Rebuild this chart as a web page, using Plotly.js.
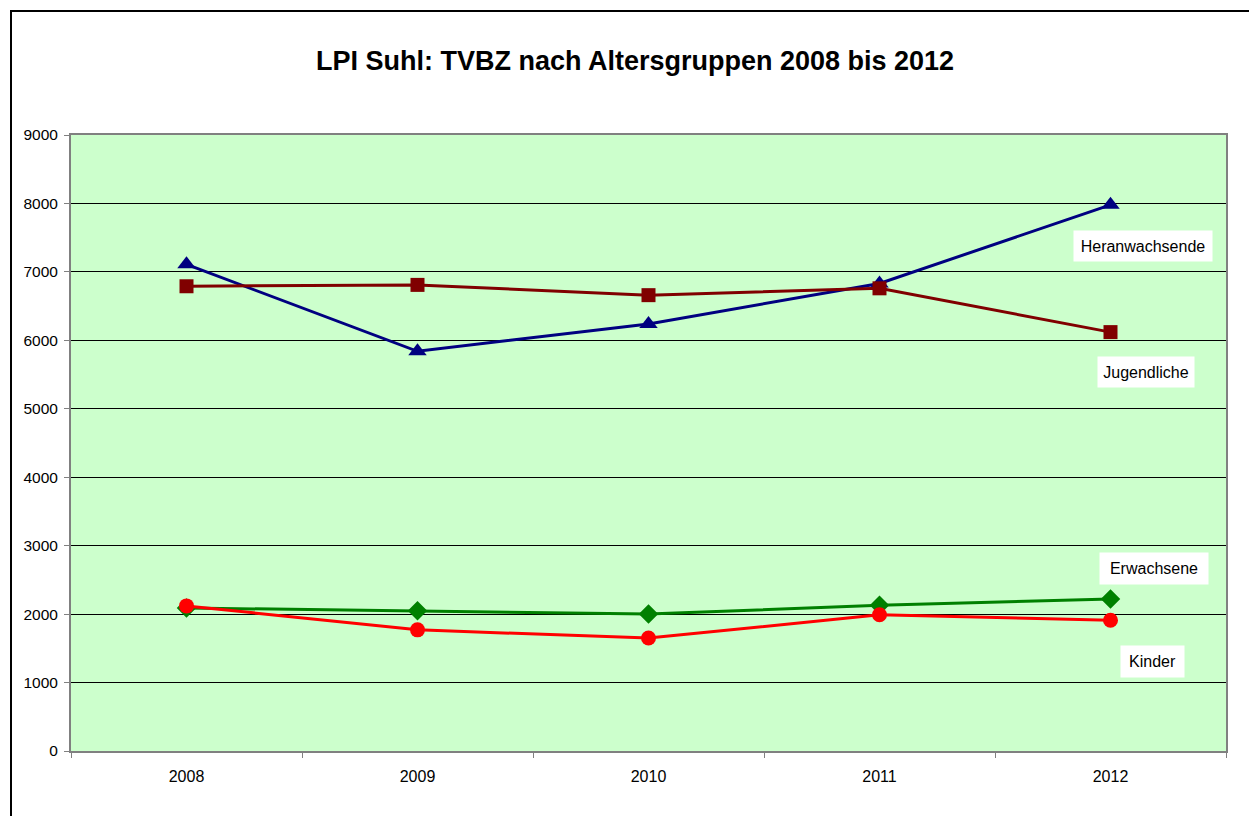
<!DOCTYPE html>
<html>
<head>
<meta charset="utf-8">
<script src="https://cdn.plot.ly/plotly-3.0.1.min.js"></script>
<style>
  html, body { margin: 0; padding: 0; background: #ffffff; overflow: hidden; }
  #chart { width: 1249px; height: 816px; position: relative; }
  #frame { position: absolute; left: 10px; top: 10px; width: 1300px; height: 900px;
           border-left: 2px solid #000; border-top: 2px solid #000; pointer-events: none; z-index: 10; }
</style>
</head>
<body>
<div id="chart"></div>
<div id="frame"></div>
<script>
const years = ['2008', '2009', '2010', '2011', '2012'];
const heranwachsende = [7110, 5840, 6240, 6830, 7980];
const jugendliche = [6790, 6810, 6660, 6760, 6120];
const erwachsene = [2090, 2050, 2000, 2130, 2220];
const kinder = [2120, 1770, 1650, 1990, 1910];
const yTicks = [0, 1000, 2000, 3000, 4000, 5000, 6000, 7000, 8000, 9000];

const font = 'Liberation Sans, Arial, sans-serif';

const traces = [
  { name: 'Heranwachsende', x: years, y: heranwachsende, mode: 'lines+markers',
    line: { color: '#000080', width: 3 }, marker: { symbol: 'triangle-up', size: 16, color: '#000080' } },
  { name: 'Jugendliche', x: years, y: jugendliche, mode: 'lines+markers',
    line: { color: '#800000', width: 3 }, marker: { symbol: 'square', size: 14, color: '#800000' } },
  { name: 'Erwachsene', x: years, y: erwachsene, mode: 'lines+markers',
    line: { color: '#008000', width: 3 }, marker: { symbol: 'diamond', size: 15, color: '#008000' } },
  { name: 'Kinder', x: years, y: kinder, mode: 'lines+markers',
    line: { color: '#FF0000', width: 3 }, marker: { symbol: 'circle', size: 15, color: '#FF0000' } }
];

function px2x(px) { return (px - 71) / 1155; }
function py2y(py) { return (751 - py) / 616; }

function label(text, cx, cy, w, h) {
  return { text: text, xref: 'paper', yref: 'paper', x: px2x(cx), y: py2y(cy),
    xanchor: 'center', yanchor: 'middle', showarrow: false, bgcolor: '#ffffff',
    width: w, height: h, borderpad: 0, font: { family: font, size: 16, color: '#000' } };
}

const layout = {
  width: 1249, height: 816,
  margin: { l: 71, r: 23, t: 135, b: 65 },
  paper_bgcolor: '#ffffff',
  plot_bgcolor: '#CCFFCC',
  showlegend: false,
  title: { text: '<b>LPI Suhl: TVBZ nach Altersgruppen 2008 bis 2012</b>',
    font: { family: font, size: 27, color: '#000' },
    x: 635 / 1249, xref: 'container', xanchor: 'center',
    y: 1 - 61 / 816, yref: 'container', yanchor: 'middle' },
  xaxis: {
    type: 'category', range: [-0.5, 4.5],
    tickson: 'boundaries', ticks: 'outside', ticklen: 5, tickcolor: '#808080', tickwidth: 1,
    ticklabelstandoff: 10,
    showgrid: false, zeroline: false,
    showline: true, linecolor: '#808080', linewidth: 2, mirror: true,
    tickfont: { family: font, size: 16, color: '#000' }, fixedrange: true
  },
  yaxis: {
    range: [0, 9000], tickvals: yTicks, ticktext: yTicks.map(String),
    ticks: 'outside', ticklen: 5, tickcolor: '#808080', tickwidth: 1,
    ticklabelstandoff: 3,
    showgrid: true, gridcolor: '#000000', gridwidth: 1, zeroline: false,
    showline: true, linecolor: '#808080', linewidth: 2, mirror: true,
    tickfont: { family: font, size: 15.5, color: '#000' }, fixedrange: true
  },
  annotations: [
    label('Heranwachsende', 1143, 246, 138, 30),
    label('Jugendliche', 1146, 372, 96, 30),
    label('Erwachsene', 1154, 568, 108, 31),
    label('Kinder', 1152, 661, 63, 31)
  ]
};

Plotly.newPlot('chart', traces, layout, { displayModeBar: false, staticPlot: true });
</script>
</body>
</html>
